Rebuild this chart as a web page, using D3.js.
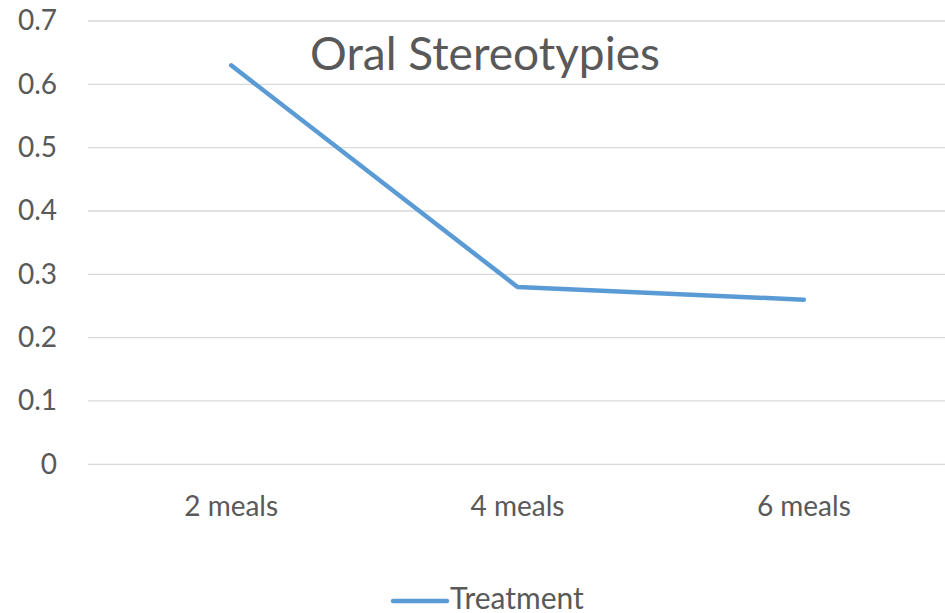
<!DOCTYPE html>
<html>
<head>
<meta charset="utf-8">
<script src="https://cdn.jsdelivr.net/npm/d3@7"></script>
<style>
  html, body { margin: 0; padding: 0; background: #fff; }
  svg { display: block; }
</style>
</head>
<body>
<svg id="chart" width="945" height="613"></svg>
<script>
// Chart data
const categories = ["2 meals", "4 meals", "6 meals"];
const treatment = [0.63, 0.28, 0.26];
const yTicks = [0, 0.1, 0.2, 0.3, 0.4, 0.5, 0.6, 0.7];
const seriesName = "Treatment";
const chartTitle = "Oral Stereotypies";

const svg = d3.select("#chart");
const font = "Lato, 'Open Sans', sans-serif";
const textColor = "#595959";
const lineColor = "#5B9BD5";
const tickSize = 28;

const x = d3.scaleBand().domain(categories).range([88, 947]);
const y = d3.scaleLinear().domain([0, 0.7]).range([464.3, 21]);

// Horizontal gridlines
svg.append("g")
  .selectAll("line")
  .data(yTicks)
  .join("line")
  .attr("x1", 88).attr("x2", 945)
  .attr("y1", d => y(d)).attr("y2", d => y(d))
  .attr("stroke", "#d9d9d9")
  .attr("stroke-width", 1.3);

// Y axis labels
const yAxis = d3.axisLeft(y).tickValues(yTicks).tickSize(0).tickPadding(0)
  .tickFormat(d => d === 0 ? "0" : d3.format(".1f")(d));
svg.append("g")
  .attr("transform", "translate(57,0)")
  .call(yAxis)
  .call(g => g.select(".domain").remove())
  .call(g => g.selectAll("text")
    .attr("fill", textColor)
    .attr("font-family", font)
    .attr("font-size", tickSize));

// X axis labels
const xAxis = d3.axisBottom(x).tickSize(0).tickPadding(0);
svg.append("g")
  .attr("transform", "translate(0,496)")
  .call(xAxis)
  .call(g => g.select(".domain").remove())
  .call(g => g.selectAll("text")
    .attr("fill", textColor)
    .attr("font-family", font)
    .attr("font-size", tickSize));

// Series line
const line = d3.line()
  .x((d, i) => x(categories[i]) + x.bandwidth() / 2)
  .y(d => y(d));
svg.append("path")
  .datum(treatment)
  .attr("d", line)
  .attr("fill", "none")
  .attr("stroke", lineColor)
  .attr("stroke-width", 4.5)
  .attr("stroke-linecap", "round")
  .attr("stroke-linejoin", "round");

// Title
svg.append("text")
  .attr("x", 485).attr("y", 70)
  .attr("text-anchor", "middle")
  .attr("fill", textColor)
  .attr("font-family", font)
  .attr("font-size", 46)
  .text(chartTitle);

// Legend
svg.append("line")
  .attr("x1", 393).attr("x2", 447)
  .attr("y1", 601).attr("y2", 601)
  .attr("stroke", lineColor)
  .attr("stroke-width", 4.5)
  .attr("stroke-linecap", "round");
svg.append("text")
  .attr("x", 450).attr("y", 609)
  .attr("fill", textColor)
  .attr("font-family", font)
  .attr("font-size", 30)
  .text(seriesName);
</script>
</body>
</html>
